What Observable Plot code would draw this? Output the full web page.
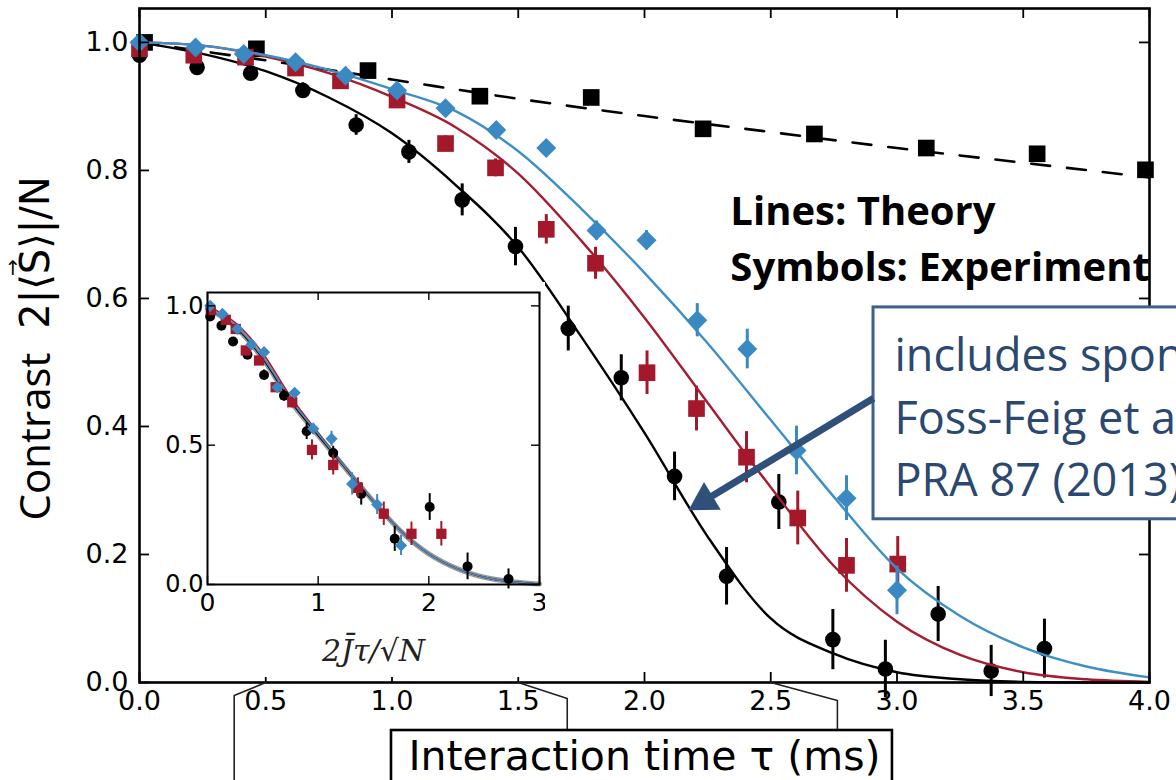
<!DOCTYPE html>
<html><head><meta charset="utf-8">
<script src="https://cdn.jsdelivr.net/npm/d3@7"></script>
<script src="https://cdn.jsdelivr.net/npm/@observablehq/plot@0.6"></script>
<style>
html,body{margin:0;padding:0;background:#fff;}
#wrap{position:relative;width:1176px;height:780px;overflow:hidden;}
#inset{position:absolute;left:150px;top:282px;}
svg{overflow:hidden;}
</style></head><body><div id="wrap"><div id="main"></div><div id="inset"></div></div>
<script>
// ---------- main panel data ----------
const xTicks = [0, 0.5, 1, 1.5, 2, 2.5, 3, 3.5, 4];
const yTicks = [0, 0.2, 0.4, 0.6, 0.8, 1.0];

// theory curves
const thGrid = [0,0.25,0.5,0.75,1,1.25,1.5,1.75,2,2.25,2.5,2.75,3,3.25,3.5,3.75,4];
const blackTheory = [1.0,0.982,0.955,0.914,0.858,0.778,0.68,0.54,0.39,0.228,0.1,0.045,0.016,0.005,0.001,0,0];
const redTheory   = [1.0,0.995,0.978,0.952,0.915,0.868,0.795,0.69,0.57,0.437,0.305,0.182,0.095,0.043,0.016,0.005,0.001];
const blueTheory  = [1.0,0.995,0.98,0.957,0.927,0.893,0.83,0.74,0.64,0.53,0.41,0.29,0.178,0.104,0.055,0.025,0.008];
const dashGrid   = [0,0.5,1,1.5,2,2.5,3,3.5,4];
const dashTheory = [1.0,0.972,0.942,0.912,0.885,0.86,0.835,0.812,0.789];

// experiment: black squares
const sqTau = [0.02,0.463,0.905,1.348,1.789,2.232,2.673,3.116,3.555,3.984];
const sqVal = [1.0,0.99,0.956,0.916,0.914,0.865,0.857,0.835,0.826,0.801];
// experiment: black circles
const bkTau = [0,0.228,0.44,0.647,0.858,1.067,1.278,1.489,1.698,1.908,2.119,2.325,2.532,2.746,2.954,3.163,3.373,3.584];
const bkVal = [0.98,0.961,0.952,0.925,0.871,0.829,0.754,0.681,0.553,0.476,0.322,0.166,0.282,0.067,0.021,0.107,0.018,0.053];
const bkErr = [0.01,0.01,0.01,0.012,0.016,0.018,0.025,0.03,0.035,0.036,0.038,0.045,0.043,0.047,0.045,0.043,0.04,0.046];
// experiment: red squares
const rdTau = [0,0.215,0.42,0.618,0.796,1.02,1.212,1.41,1.611,1.806,2.01,2.206,2.404,2.607,2.80,3.003];
const rdVal = [0.99,0.98,0.977,0.96,0.94,0.91,0.842,0.804,0.708,0.655,0.484,0.428,0.352,0.257,0.183,0.185];
const rdErr = [0.005,0.005,0.005,0.008,0.008,0.01,0.012,0.014,0.023,0.025,0.034,0.035,0.04,0.042,0.042,0.043];
// experiment: blue diamonds
const blTau = [0,0.222,0.413,0.618,0.816,1.02,1.212,1.413,1.611,1.81,2.008,2.209,2.407,2.602,2.80,3.0];
const blVal = [1.0,0.992,0.982,0.969,0.948,0.925,0.897,0.863,0.835,0.706,0.691,0.566,0.521,0.3625,0.288,0.144];
const blErr = [0.005,0.005,0.005,0.005,0.005,0.008,0.008,0.01,0.01,0.015,0.015,0.026,0.031,0.038,0.035,0.038];

// ---------- inset data ----------
const inXTicks = [0,1,2,3];
const inYTicks = [0,0.5,1.0];
const inGrid = [0,0.25,0.5,0.75,1,1.25,1.5,1.75,2,2.25,2.5,2.75,3];
const inBlackTheory = [0.99,0.925,0.81,0.658,0.535,0.415,0.298,0.19,0.11,0.058,0.026,0.01,0.002];
const inRedTheory   = [1.0,0.94,0.83,0.675,0.545,0.42,0.3,0.192,0.11,0.058,0.026,0.01,0.002];
const inBlueTheory  = [0.99,0.93,0.815,0.665,0.54,0.418,0.3,0.19,0.11,0.058,0.026,0.01,0.002];
const inBkX = [0.024,0.126,0.231,0.361,0.511,0.691,0.896,1.136,1.389,1.692,2.008,2.35,2.72];
const inBkY = [0.962,0.929,0.872,0.825,0.752,0.678,0.55,0.472,0.325,0.164,0.278,0.065,0.02];
const inBkE = [0.01,0.012,0.014,0.016,0.018,0.02,0.03,0.024,0.04,0.045,0.048,0.048,0.036];
const inRdX = [0.03,0.165,0.255,0.346,0.466,0.616,0.766,0.944,1.136,1.359,1.593,1.843,2.113];
const inRdY = [0.985,0.95,0.917,0.84,0.804,0.708,0.654,0.483,0.429,0.347,0.254,0.182,0.182];
const inRdE = [0.005,0.005,0.006,0.008,0.01,0.015,0.02,0.036,0.036,0.036,0.042,0.042,0.044];
const inBlX = [0.024,0.135,0.27,0.397,0.511,0.631,0.787,0.956,1.121,1.307,1.533,1.749];
const inBlY = [1.0,0.971,0.917,0.861,0.834,0.708,0.688,0.559,0.523,0.361,0.287,0.14];
const inBlE = [0.005,0.005,0.006,0.008,0.008,0.012,0.014,0.02,0.027,0.04,0.036,0.036];

// ---------- text ----------
const yLabelWord = "Contrast";
const yLabelMath = "2|\u27E8S\u27E9|/N";
const yLabelVecArrow = "\u2192";
const xLabel = "Interaction time \u03C4 (ms)";
const insetXLabel = "2J\u0304\u03C4/\u221AN";
const legendLines = ["Lines: Theory", "Symbols: Experiment"];
const noteLines = ["includes spontaneous emission", "Foss-Feig et al.", "PRA 87 (2013)"];

// ---------- annotation geometry (data units of the main panel) ----------
const legendAnchor = {x: 2.34, y: [0.714, 0.628]};
const noteAnchor = {x: 2.99, y: [0.486, 0.389, 0.291]};
const noteBox = [{x1: 2.907, x2: 4.4, y1: 0.255, y2: 0.586}];
const noteArrow = [{x1: 2.907, y1: 0.444, x2: 2.174, y2: 0.269}];
const xLabelBox = [{x1: 0.998, x2: 2.982, y1: -0.075, y2: -0.16}];
const connectors = [
  {k: "a", x: 0.5, y: 0}, {k: "a", x: 0.375, y: -0.0203}, {k: "a", x: 0.375, y: -0.2},
  {k: "b", x: 1.5, y: 0}, {k: "b", x: 1.694, y: -0.025}, {k: "b", x: 1.694, y: -0.075},
  {k: "c", x: 2.5, y: 0}, {k: "c", x: 2.764, y: -0.028}, {k: "c", x: 2.764, y: -0.075}
];

// ---------- helpers ----------
const zip = (xs, ys, es) => xs.map((x, i) => ({x, y: ys[i], e: es ? es[i] : 0}));
const BLACK = "#000000", RED = "#a3182b", BLUE = "#3a89c3";
const RED_L = "#a51d30", BLUE_L = "#3d8fc6";
const ARROW = "#2f5079";

// ---------- main plot ----------
const W = 1176, H = 780, mL = 139, mR = 27, mT = 8, mB = 98;
const yTop = 1.053;
const innerW = W - mL - mR, innerH = H - mT - mB;
const tl = 10;

// arrow head geometry (pixel sizes converted to data units)
const sx = innerW / 4, sy = innerH / yTop;
const A = noteArrow[0];
const vdx = (A.x1 - A.x2) * sx, vdy = -(A.y1 - A.y2) * sy;
const vlen = Math.hypot(vdx, vdy), ux = vdx / vlen, uy = vdy / vlen;
const headH = 28, hyy = headH / 3;
const headR = Math.sqrt(hyy * hyy * 3 * Math.sqrt(3) / Math.PI);
const headRot = Math.atan2(-uy, -ux) * 180 / Math.PI + 90;
const arrowHead = [{x: A.x2 + 2 * hyy * ux / sx, y: A.y2 - 2 * hyy * uy / sy}];
const arrowShaft = [{x1: A.x1, y1: A.y1, x2: A.x2 + headH * 0.8 * ux / sx, y2: A.y2 - headH * 0.8 * uy / sy}];

const main = Plot.plot({
  width: W, height: H,
  marginLeft: mL, marginRight: mR, marginTop: mT, marginBottom: mB,
  x: {domain: [0, 4]},
  y: {domain: [0, yTop]},
  style: {fontFamily: "DejaVu Sans", background: "white", color: "black"},
  marks: [
    Plot.line(zip(dashGrid, dashTheory), {x: "x", y: "y", stroke: BLACK, strokeWidth: 2.6, strokeDasharray: "19,17", curve: "monotone-x"}),
    Plot.dot(zip(sqTau, sqVal), {x: "x", y: "y", symbol: "square", r: 9.4, fill: BLACK}),
    Plot.line(zip(thGrid, blackTheory), {x: "x", y: "y", stroke: BLACK, strokeWidth: 2.4, curve: "monotone-x"}),
    Plot.ruleX(zip(bkTau, bkVal, bkErr), {x: "x", y1: d => d.y - d.e, y2: d => d.y + d.e, stroke: BLACK, strokeWidth: 3}),
    Plot.dot(zip(bkTau, bkVal), {x: "x", y: "y", symbol: "circle", r: 7.8, fill: BLACK}),
    Plot.line(zip(thGrid, redTheory), {x: "x", y: "y", stroke: RED_L, strokeWidth: 2.4, curve: "monotone-x"}),
    Plot.ruleX(zip(rdTau, rdVal, rdErr), {x: "x", y1: d => d.y - d.e, y2: d => d.y + d.e, stroke: RED, strokeWidth: 3}),
    Plot.dot(zip(rdTau, rdVal), {x: "x", y: "y", symbol: "square", r: 9.4, fill: RED}),
    Plot.line(zip(thGrid, blueTheory), {x: "x", y: "y", stroke: BLUE_L, strokeWidth: 2.4, curve: "monotone-x"}),
    Plot.ruleX(zip(blTau, blVal, blErr), {x: "x", y1: d => d.y - d.e, y2: d => d.y + d.e, stroke: BLUE, strokeWidth: 3}),
    Plot.dot(zip(blTau, blVal), {x: "x", y: "y", symbol: "diamond2", r: 9, fill: BLUE}),

    // inward ticks on all sides
    Plot.tickX(xTicks, {x: d => d, insetTop: innerH - tl, stroke: "black", strokeWidth: 1.8}),
    Plot.tickX(xTicks, {x: d => d, insetBottom: innerH - tl, stroke: "black", strokeWidth: 1.8}),
    Plot.tickY(yTicks, {y: d => d, insetRight: innerW - tl, stroke: "black", strokeWidth: 1.8}),
    Plot.tickY(yTicks, {y: d => d, insetLeft: innerW - tl, stroke: "black", strokeWidth: 1.8}),
    Plot.frame({stroke: "black", strokeWidth: 2.6}),

    // tick labels
    Plot.axisX(xTicks, {tickSize: 0, tickPadding: 8, tickFormat: d3.format(".1f"), fontSize: 27, label: null}),
    Plot.axisY(yTicks, {tickSize: 0, tickPadding: 11, tickFormat: d3.format(".1f"), fontSize: 27, label: null}),

    // y title (rotated)
    Plot.text([yLabelWord], {text: d => d, frameAnchor: "left", textAnchor: "middle", dx: -103, dy: 91, rotate: -90, fontSize: 42, fontFamily: "Open Sans", fill: "black"}),
    Plot.text([yLabelMath], {text: d => d, frameAnchor: "left", textAnchor: "middle", dx: -103, dy: -93, rotate: -90, fontSize: 40, fontFamily: "DejaVu Sans, Noto Sans, sans-serif", fill: "black"}),
    Plot.text([yLabelVecArrow], {text: d => d, frameAnchor: "left", textAnchor: "middle", dx: -127, dy: -78, rotate: -90, fontSize: 20, fontFamily: "DejaVu Sans", fill: "black"}),

    // x title with frame and connector lines
    Plot.line(connectors, {x: "x", y: "y", z: "k", stroke: "#222", strokeWidth: 1.6}),
    Plot.rect(xLabelBox, {x1: "x1", x2: "x2", y1: "y1", y2: "y2", fill: "white", stroke: "black", strokeWidth: 2.6}),
    Plot.text([xLabel], {text: d => d, frameAnchor: "bottom", dy: 87, lineAnchor: "bottom", fontSize: 41, fontFamily: "DejaVu Sans", fill: "black"}),

    // legend text
    Plot.text(legendLines, {x: () => legendAnchor.x, y: (d, i) => legendAnchor.y[i], text: d => d, textAnchor: "start", lineAnchor: "bottom", fontSize: 40, fontWeight: "bold", fontFamily: "Open Sans", fill: "black"}),

    // note box + arrow
    Plot.rect(noteBox, {x1: "x1", x2: "x2", y1: "y1", y2: "y2", fill: "white", stroke: "#3e618b", strokeWidth: 3}),
    Plot.text(noteLines, {x: () => noteAnchor.x, y: (d, i) => noteAnchor.y[i], text: d => d, textAnchor: "start", lineAnchor: "bottom", fontSize: 45, fontFamily: "Open Sans", fill: "#2b4870"}),
    Plot.link(arrowShaft, {x1: "x1", y1: "y1", x2: "x2", y2: "y2", stroke: ARROW, strokeWidth: 7}),
    Plot.dot(arrowHead, {x: "x", y: "y", symbol: "triangle", r: headR, rotate: headRot, fill: ARROW, stroke: "none"})
  ]
});
document.getElementById("main").append(main);

// ---------- inset plot ----------
const iW = 395, iH = 395, imL = 57, imR = 6, imT = 10, imB = 93;
const iInnerW = iW - imL - imR, iInnerH = iH - imT - imB;
const itl = 8;
const inset = Plot.plot({
  width: iW, height: iH,
  marginLeft: imL, marginRight: imR, marginTop: imT, marginBottom: imB,
  x: {domain: [0, 3]},
  y: {domain: [0, 1.048]},
  style: {fontFamily: "DejaVu Sans", background: "white", color: "black"},
  marks: [
    Plot.line(zip(inGrid, inBlackTheory), {x: "x", y: "y", stroke: "#9a9a9a", strokeWidth: 5, curve: "monotone-x"}),
    Plot.line(zip(inGrid, inBlackTheory), {x: "x", y: "y", stroke: BLACK, strokeWidth: 1.5, curve: "monotone-x"}),
    Plot.line(zip(inGrid, inRedTheory), {x: "x", y: "y", stroke: RED_L, strokeWidth: 1.5, curve: "monotone-x"}),
    Plot.line(zip(inGrid, inBlueTheory), {x: "x", y: "y", stroke: BLUE_L, strokeWidth: 1.5, curve: "monotone-x"}),
    Plot.ruleX(zip(inBkX, inBkY, inBkE), {x: "x", y1: d => d.y - d.e, y2: d => d.y + d.e, stroke: BLACK, strokeWidth: 2}),
    Plot.dot(zip(inBkX, inBkY), {x: "x", y: "y", symbol: "circle", r: 5, fill: BLACK}),
    Plot.ruleX(zip(inRdX, inRdY, inRdE), {x: "x", y1: d => d.y - d.e, y2: d => d.y + d.e, stroke: RED, strokeWidth: 2}),
    Plot.dot(zip(inRdX, inRdY), {x: "x", y: "y", symbol: "square", r: 5.8, fill: RED}),
    Plot.ruleX(zip(inBlX, inBlY, inBlE), {x: "x", y1: d => d.y - d.e, y2: d => d.y + d.e, stroke: BLUE, strokeWidth: 2}),
    Plot.dot(zip(inBlX, inBlY), {x: "x", y: "y", symbol: "diamond2", r: 5.5, fill: BLUE}),

    Plot.tickX(inXTicks, {x: d => d, insetTop: iInnerH - itl, stroke: "black", strokeWidth: 1.4}),
    Plot.tickX(inXTicks, {x: d => d, insetBottom: iInnerH - itl, stroke: "black", strokeWidth: 1.4}),
    Plot.tickY(inYTicks, {y: d => d, insetRight: iInnerW - itl, stroke: "black", strokeWidth: 1.4}),
    Plot.tickY(inYTicks, {y: d => d, insetLeft: iInnerW - itl, stroke: "black", strokeWidth: 1.4}),
    Plot.frame({stroke: "black", strokeWidth: 2}),

    Plot.axisX(inXTicks, {tickSize: 0, tickPadding: 9, tickFormat: d3.format("d"), fontSize: 25, label: null}),
    Plot.axisY(inYTicks, {tickSize: 0, tickPadding: 4, tickFormat: d3.format(".1f"), fontSize: 24, label: null}),
    Plot.text([insetXLabel], {text: d => d, frameAnchor: "bottom", dy: 76, lineAnchor: "bottom", fontSize: 30, fontFamily: "DejaVu Serif", fontStyle: "italic", fill: "#222"})
  ]
});
document.getElementById("inset").append(inset);
</script>
</body></html>
